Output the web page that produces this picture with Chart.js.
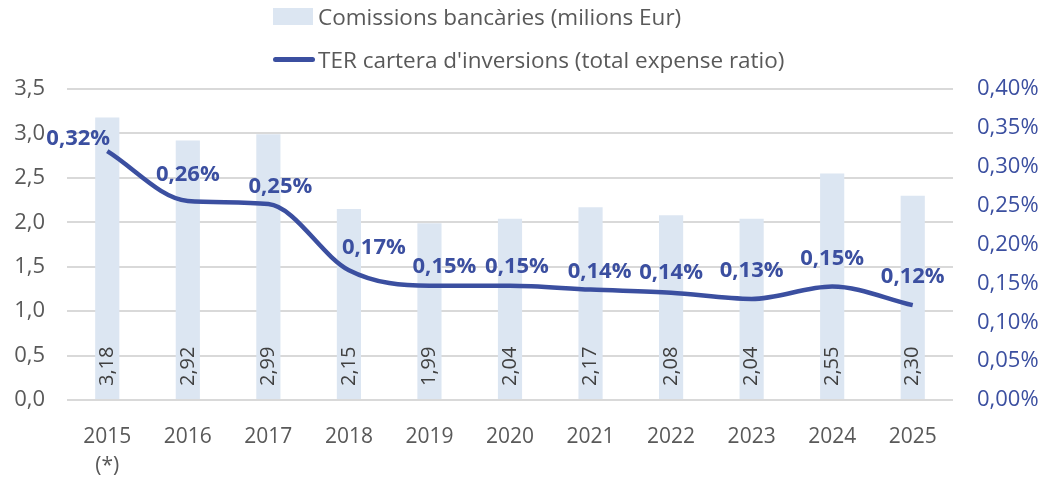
<!DOCTYPE html>
<html>
<head>
<meta charset="utf-8">
<script src="https://cdn.jsdelivr.net/npm/chart.js@4"></script>
<style>
  html, body { margin: 0; padding: 0; background: #fff; }
  #wrap { position: relative; width: 1046px; height: 479px; }
  #legend { position: absolute; left: 273px; top: 0; font-family: "Open Sans", sans-serif; font-size: 22.5px; color: #595959; }
  .item { position: absolute; left: 0; white-space: nowrap; display: flex; align-items: center; }
  .box { width: 40px; height: 17px; background: #dce6f2; margin-right: 5px; }
  .ln { width: 42px; height: 5px; background: #3b4fa0; border-radius: 3px; margin-right: 3px; }
</style>
</head>
<body>
<div id="wrap">
  <canvas id="chart" width="1046" height="479"></canvas>
  <div id="legend">
    <div class="item" style="top:1px"><span class="box"></span><span id="lab1"></span></div>
    <div class="item" style="top:44px"><span class="ln"></span><span id="lab2"></span></div>
  </div>
</div>
<script>
const years = [["2015", "(*)"], "2016", "2017", "2018", "2019", "2020", "2021", "2022", "2023", "2024", "2025"];
const commissions = [3.18, 2.92, 2.99, 2.15, 1.99, 2.04, 2.17, 2.08, 2.04, 2.55, 2.30];
const ter = [0.32, 0.256, 0.252, 0.167, 0.147, 0.147, 0.142, 0.138, 0.130, 0.146, 0.122];
const label1 = "Comissions bancàries (milions Eur)";
const label2 = "TER cartera d'inversions (total expense ratio)";

document.getElementById("lab1").textContent = label1;
document.getElementById("lab2").textContent = label2;

const blue = "#3b4fa0";
const grey = "#595959";
const font = "Open Sans";

// label nudges (dx, dy from point) for the TER labels
const terNudge = [[-29, -12], [0, -26], [12, -17], [25, -22], [15, -19], [7, -19], [9, -18], [0, -20], [0, -28], [0, -28], [0, -28]];

const valueLabels = {
  id: "valueLabels",
  afterDatasetsDraw(chart) {
    const ctx = chart.ctx;
    ctx.save();
    // bar labels, rotated, near the base
    const bars = chart.getDatasetMeta(0).data;
    ctx.font = "20px '" + font + "'";
    ctx.fillStyle = "#404040";
    ctx.textAlign = "left";
    ctx.textBaseline = "middle";
    bars.forEach((b, i) => {
      ctx.save();
      ctx.translate(b.x, chart.scales.y.getPixelForValue(0) - 14);
      ctx.rotate(-Math.PI / 2);
      ctx.fillText(commissions[i].toFixed(2).replace(".", ","), 0, 0);
      ctx.restore();
    });
    // line labels
    const pts = chart.getDatasetMeta(1).data;
    ctx.font = "bold 22px '" + font + "'";
    ctx.fillStyle = blue;
    ctx.textAlign = "center";
    pts.forEach((p, i) => {
      const n = terNudge[i];
      ctx.fillText(ter[i].toFixed(2).replace(".", ",") + "%", p.x + n[0], p.y + n[1]);
    });
    ctx.restore();
  }
};

new Chart(document.getElementById("chart"), {
  data: {
    labels: years,
    datasets: [
      {
        type: "bar",
        label: label1,
        data: commissions,
        backgroundColor: "#dce6f2",
        barPercentage: 0.3,
        categoryPercentage: 1,
        yAxisID: "y",
        order: 2,
      },
      {
        type: "line",
        label: label2,
        data: ter,
        borderColor: blue,
        borderWidth: 4.5,
        cubicInterpolationMode: "monotone",
        pointRadius: 0,
        yAxisID: "y1",
        order: 1,
      },
    ],
  },
  options: {
    responsive: false,
    animation: false,
    layout: { padding: { top: 89, bottom: 0, left: 0, right: 0 } },
    plugins: {
      legend: { display: false },
      tooltip: { enabled: false },
    },
    scales: {
      x: {
        grid: { display: false },
        border: { display: false },
        ticks: { color: grey, font: { family: font, size: 21, lineHeight: 1.4 }, padding: 14, maxRotation: 0 },
        afterFit: (a) => { a.height = 79; },
      },
      y: {
        position: "left",
        min: 0,
        max: 3.5,
        ticks: {
          stepSize: 0.5,
          color: grey,
          padding: 22,
          font: { family: font, size: 22 },
          callback: (v) => v.toFixed(1).replace(".", ","),
        },
        grid: { color: "#d9d9d9", lineWidth: 2, drawTicks: false },
        border: { display: false },
        afterFit: (a) => { a.width = 67; },
      },
      y1: {
        position: "right",
        min: 0,
        max: 0.4,
        ticks: {
          stepSize: 0.05,
          color: blue,
          padding: 24,
          font: { family: font, size: 22 },
          callback: (v) => v.toFixed(2).replace(".", ",") + "%",
        },
        grid: { drawOnChartArea: false, drawTicks: false },
        border: { display: false },
        afterFit: (a) => { a.width = 93; },
      },
    },
  },
  plugins: [valueLabels],
});
</script>
</body>
</html>
